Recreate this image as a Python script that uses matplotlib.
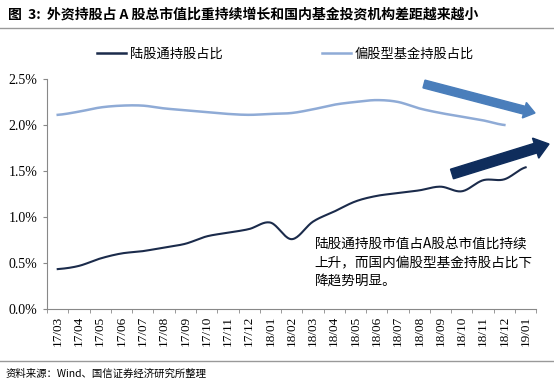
import numpy as np
import matplotlib
matplotlib.use("Agg")
import matplotlib.pyplot as plt
from matplotlib.patches import FancyArrow
from matplotlib.lines import Line2D
from matplotlib.transforms import IdentityTransform

plt.rcParams['font.family'] = ['Noto Sans CJK SC', 'DejaVu Sans']

months = ['17/03', '17/04', '17/05', '17/06', '17/07', '17/08', '17/09', '17/10',
          '17/11', '17/12', '18/01', '18/02', '18/03', '18/04', '18/05', '18/06',
          '18/07', '18/08', '18/09', '18/10', '18/11', '18/12', '19/01']
# 陆股通持股占比 (%)
hk_connect = [0.435, 0.47, 0.55, 0.605, 0.63, 0.67, 0.71, 0.79, 0.83, 0.87, 0.94, 0.76,
              0.95, 1.06, 1.17, 1.23, 1.26, 1.29, 1.33, 1.28, 1.40, 1.41, 1.54]
# 偏股型基金持股占比 (%), ends at 18/12
equity_funds = [2.11, 2.145, 2.19, 2.21, 2.21, 2.18, 2.16, 2.14, 2.12, 2.11, 2.12, 2.13,
                2.17, 2.22, 2.25, 2.27, 2.25, 2.18, 2.13, 2.09, 2.05, 2.00]

title = '图  3:  外资持股占 A 股总市值比重持续增长和国内基金投资机构差距越来越小'
source = '资料来源：Wind、国信证券经济研究所整理'
note = '陆股通持股市值占A股总市值比持续\n上升，而国内偏股型基金持股占比下\n降趋势明显。'

dark = '#1b2b4b'
light = '#8fabd6'


def smooth(y, n=20):
    # catmull-rom, like excel's smoothed line
    y = np.asarray(y, float)
    p = np.concatenate([[y[0]], y, [y[-1]]])
    xs, ys = [], []
    for i in range(len(y) - 1):
        p0, p1, p2, p3 = p[i], p[i + 1], p[i + 2], p[i + 3]
        t = np.linspace(0, 1, n, endpoint=False)
        v = 0.5 * ((2 * p1) + (-p0 + p2) * t + (2 * p0 - 5 * p1 + 4 * p2 - p3) * t ** 2
                   + (-p0 + 3 * p1 - 3 * p2 + p3) * t ** 3)
        xs.append(i + t)
        ys.append(v)
    xs.append([len(y) - 1])
    ys.append([y[-1]])
    return np.concatenate(xs), np.concatenate(ys)


fig = plt.figure(figsize=(5.54, 3.85), dpi=100)
ax = fig.add_axes([0.085, 0.197, 0.883, 0.598])

x1, y1 = smooth(hk_connect)
x2, y2 = smooth(equity_funds)
ax.plot(x1, y1, color=dark, lw=1.5)
ax.plot(x2, y2, color=light, lw=1.8)

ax.set_xlim(-0.5, len(months) - 0.5)
ax.set_ylim(0, 2.5)
ax.set_yticks(np.arange(0, 2.51, 0.5))
ax.set_yticklabels(['%.1f%%' % v for v in np.arange(0, 2.51, 0.5)],
                   family='Liberation Serif', fontsize=10)
ax.set_xticks(range(len(months)))
ax.set_xticklabels(months, rotation=90, family='Liberation Serif', fontsize=9.5)
ax.set_xticks(np.arange(-0.5, len(months), 1), minor=True)
ax.tick_params(axis='x', which='major', length=0, pad=5)
ax.tick_params(axis='x', which='minor', length=3, color='#888888')
ax.tick_params(axis='y', length=3, color='#888888', pad=4)
for s in ['top', 'right']:
    ax.spines[s].set_visible(False)
for s in ['left', 'bottom']:
    ax.spines[s].set_color('#888888')

handles = [Line2D([], [], color=dark, lw=1.8), Line2D([], [], color=light, lw=1.8)]
fig.legend(handles, ['陆股通持股占比', '偏股型基金持股占比'], ncol=2, frameon=False,
           loc='center', bbox_to_anchor=(0.515, 0.86), fontsize=9.5,
           handlelength=2.2, handletextpad=0.3, columnspacing=7.5)

fig.text(0.015, 0.962, title, fontsize=10, fontweight='bold', va='center')
fig.add_artist(Line2D([0, 1], [0.928, 0.928], color='#999999', lw=1))
fig.add_artist(Line2D([0, 1], [0.062, 0.062], color='#999999', lw=1))
fig.text(0.01, 0.03, source, fontsize=7.5, va='center')

fig.text(0.568, 0.317, note, fontsize=9.8, va='center', linespacing=1.4)

# trend arrows, positions in figure pixels
fig.add_artist(FancyArrow(424, 301, 111, -29, width=8, head_width=16, head_length=11,
                          length_includes_head=True, color='#4a7ebb',
                          transform=IdentityTransform()))
fig.add_artist(FancyArrow(452, 211, 97, 30, width=10, head_width=21, head_length=14,
                          length_includes_head=True, color='#0f2d5c',
                          transform=IdentityTransform()))

fig.savefig('out.png', dpi=100)
